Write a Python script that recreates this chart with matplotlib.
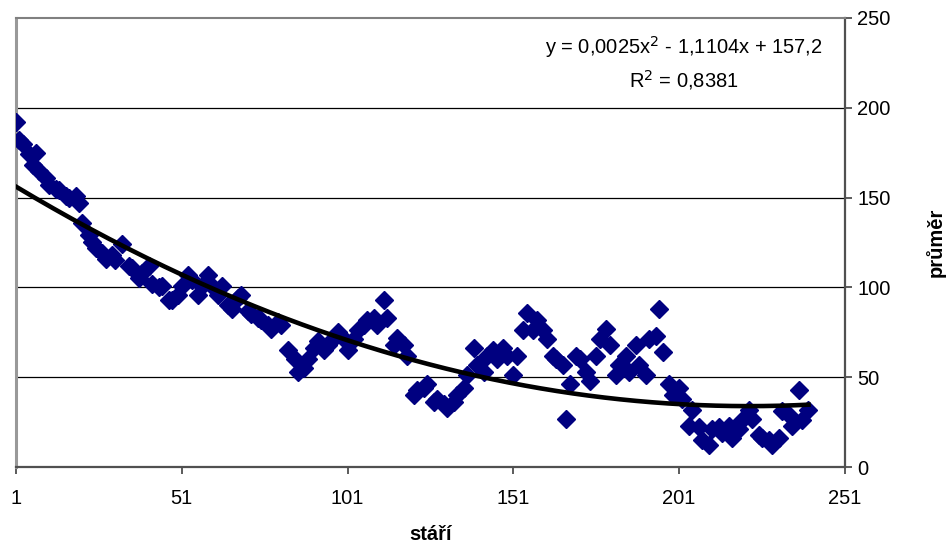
import numpy as np
import matplotlib
matplotlib.use("Agg")
import matplotlib.pyplot as plt

plt.rcParams['font.family'] = ['Liberation Sans', 'DejaVu Sans']

# stari (age) and prumer (diameter)
stari = [1, 2, 3, 5, 6, 7, 8, 10, 11, 13, 14, 16, 17, 19, 20, 21, 23, 24, 25, 27,
         28, 30, 31, 33, 35, 36, 38, 39, 41, 42, 44, 45, 47, 48, 50, 51, 53, 54, 56, 57,
         59, 60, 62, 63, 65, 66, 68, 69, 71, 72, 74, 75, 77, 78, 80, 81, 83, 85, 86, 88,
         89, 91, 92, 94, 95, 97, 98, 100, 101, 103, 104, 106, 107, 109, 110, 112, 113, 115, 116, 118,
         119, 121, 122, 124, 125, 127, 128, 130, 131, 133, 134, 136, 137, 139, 140, 142, 143, 145, 146, 148,
         149, 151, 152, 154, 155, 157, 158, 160, 161, 163, 164, 166, 167, 168, 170, 171, 173, 174, 176, 177,
         179, 180, 182, 183, 185, 186, 188, 189, 191, 192, 194, 195, 196, 198, 199, 201, 202, 204, 205, 207,
         208, 210, 211, 213, 214, 216, 217, 219, 220, 222, 223, 225, 226, 228, 229, 231, 232, 234, 235, 237,
         238, 240]
prumer = [192, 182, 180, 174, 168, 175, 165, 161, 157, 155, 154, 151, 150, 151, 147, 136, 129, 125, 122, 119,
          116, 118, 115, 124, 112, 111, 105, 108, 112, 102, 100, 101, 93, 93, 96, 101, 107, 104, 96, 101,
          107, 101, 96, 101, 90, 88, 94, 96, 87, 85, 83, 82, 79, 77, 81, 79, 65, 60, 53, 55,
          60, 66, 70, 65, 68, 72, 75, 71, 65, 71, 76, 79, 82, 83, 79, 93, 83, 68, 72, 68,
          62, 40, 43, 44, 46, 36, 38, 35, 33, 36, 40, 44, 51, 66, 57, 53, 62, 65, 60, 66,
          62, 51, 62, 76, 86, 76, 82, 76, 71, 62, 60, 57, 27, 46, 62, 60, 53, 48, 62, 71,
          77, 68, 51, 57, 62, 53, 68, 57, 51, 71, 73, 88, 64, 46, 40, 44, 38, 23, 32, 22,
          15, 12, 21, 22, 19, 23, 16, 21, 26, 32, 27, 18, 16, 15, 12, 16, 31, 29, 23, 43,
          26, 32]

# polynomial trend from the reference (highest power first)
trend_coef = [0.0025, -1.1104, 157.2]
trend_text = "y = 0,0025x$^2$ - 1,1104x + 157,2"
r2_text = "R$^2$ = 0,8381"

fig = plt.figure(figsize=(9.51, 5.45), dpi=100)
ax = fig.add_axes([0.0168, 0.1431, 0.8717, 0.824])

ax.plot(stari, prumer, linestyle='none', marker='D', markersize=8.8,
        markerfacecolor='#000080', markeredgecolor='#000080', zorder=3)

xs = np.linspace(stari[0], stari[-1], 300)
ax.plot(xs, np.polyval(trend_coef, xs), color='black', linewidth=3.3, zorder=4)

ax.set_xlim(1, 251)
ax.set_ylim(0, 250)
ax.set_xticks([1, 51, 101, 151, 201, 251])
ax.set_yticks([0, 50, 100, 150, 200, 250])

ax.yaxis.tick_right()
ax.yaxis.set_label_position('right')
ax.tick_params(axis='both', labelsize=14.5, length=5, width=1.2, color='#404040')
ax.tick_params(axis='y', pad=4)
ax.tick_params(axis='x', pad=11)

for y in [50, 100, 150, 200]:
    ax.axhline(y, color='black', linewidth=0.9, zorder=1)

ax.spines['left'].set_color('#999999')
ax.spines['left'].set_linewidth(2.2)
ax.spines['top'].set_color('#808080')
ax.spines['top'].set_linewidth(1.5)
ax.spines['bottom'].set_color('#505050')
ax.spines['bottom'].set_linewidth(1.6)
ax.spines['right'].set_color('#505050')
ax.spines['right'].set_linewidth(1.6)

ax.set_xlabel("stáří", fontsize=14.5, fontweight='bold', labelpad=12)
ax.set_ylabel("průměr", fontsize=14.5, fontweight='bold', labelpad=25)

ax.text(0.806, 0.935, trend_text, transform=ax.transAxes, ha='center', va='center', fontsize=14.5)
ax.text(0.806, 0.862, r2_text, transform=ax.transAxes, ha='center', va='center', fontsize=14.5)

fig.savefig("out.png", dpi=100)
